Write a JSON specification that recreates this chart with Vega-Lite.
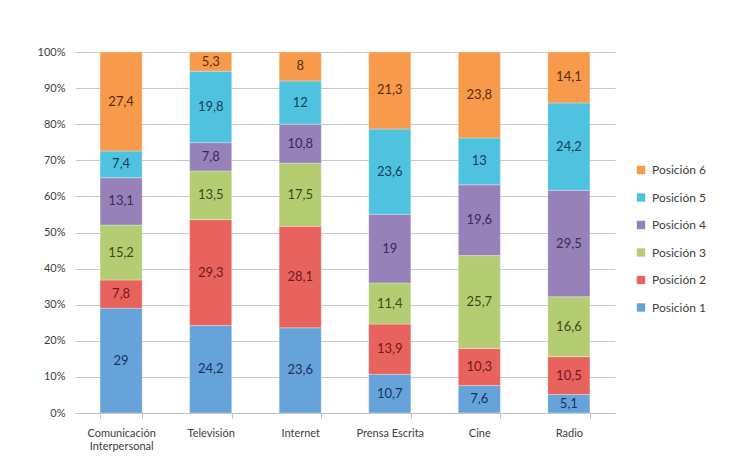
{
  "$schema": "https://vega.github.io/schema/vega-lite/v6.json",
  "width": 540,
  "height": 361,
  "autosize": "none",
  "padding": {"left": 75, "top": 52, "right": 134, "bottom": 60},
  "background": "white",
  "config": {
    "font": "Lato",
    "view": {"stroke": null},
    "axisY": {
      "title": null,
      "format": ".0%",
      "values": [0, 0.1, 0.2, 0.3, 0.4, 0.5, 0.6, 0.7, 0.8, 0.9, 1],
      "labelOverlap": false,
      "labelFont": "Lato",
      "labelFontSize": 11,
      "labelColor": "#404040",
      "labelPadding": 10,
      "domain": false,
      "ticks": false,
      "gridColor": "#c8c8c8",
      "gridWidth": 1
    },
    "locale": {"number": {"decimal": ",", "thousands": ".", "grouping": [3], "currency": ["", " €"]}}
  },
  "data": {
    "values": [
      {"cat": "Comunicación Interpersonal", "p": 1, "pos": "Posición 1", "v": 29},
      {"cat": "Comunicación Interpersonal", "p": 2, "pos": "Posición 2", "v": 7.8},
      {"cat": "Comunicación Interpersonal", "p": 3, "pos": "Posición 3", "v": 15.2},
      {"cat": "Comunicación Interpersonal", "p": 4, "pos": "Posición 4", "v": 13.1},
      {"cat": "Comunicación Interpersonal", "p": 5, "pos": "Posición 5", "v": 7.4},
      {"cat": "Comunicación Interpersonal", "p": 6, "pos": "Posición 6", "v": 27.4},
      {"cat": "Televisión", "p": 1, "pos": "Posición 1", "v": 24.2},
      {"cat": "Televisión", "p": 2, "pos": "Posición 2", "v": 29.3},
      {"cat": "Televisión", "p": 3, "pos": "Posición 3", "v": 13.5},
      {"cat": "Televisión", "p": 4, "pos": "Posición 4", "v": 7.8},
      {"cat": "Televisión", "p": 5, "pos": "Posición 5", "v": 19.8},
      {"cat": "Televisión", "p": 6, "pos": "Posición 6", "v": 5.3},
      {"cat": "Internet", "p": 1, "pos": "Posición 1", "v": 23.6},
      {"cat": "Internet", "p": 2, "pos": "Posición 2", "v": 28.1},
      {"cat": "Internet", "p": 3, "pos": "Posición 3", "v": 17.5},
      {"cat": "Internet", "p": 4, "pos": "Posición 4", "v": 10.8},
      {"cat": "Internet", "p": 5, "pos": "Posición 5", "v": 12},
      {"cat": "Internet", "p": 6, "pos": "Posición 6", "v": 8},
      {"cat": "Prensa Escrita", "p": 1, "pos": "Posición 1", "v": 10.7},
      {"cat": "Prensa Escrita", "p": 2, "pos": "Posición 2", "v": 13.9},
      {"cat": "Prensa Escrita", "p": 3, "pos": "Posición 3", "v": 11.4},
      {"cat": "Prensa Escrita", "p": 4, "pos": "Posición 4", "v": 19},
      {"cat": "Prensa Escrita", "p": 5, "pos": "Posición 5", "v": 23.6},
      {"cat": "Prensa Escrita", "p": 6, "pos": "Posición 6", "v": 21.3},
      {"cat": "Cine", "p": 1, "pos": "Posición 1", "v": 7.6},
      {"cat": "Cine", "p": 2, "pos": "Posición 2", "v": 10.3},
      {"cat": "Cine", "p": 3, "pos": "Posición 3", "v": 25.7},
      {"cat": "Cine", "p": 4, "pos": "Posición 4", "v": 19.6},
      {"cat": "Cine", "p": 5, "pos": "Posición 5", "v": 13},
      {"cat": "Cine", "p": 6, "pos": "Posición 6", "v": 23.8},
      {"cat": "Radio", "p": 1, "pos": "Posición 1", "v": 5.1},
      {"cat": "Radio", "p": 2, "pos": "Posición 2", "v": 10.5},
      {"cat": "Radio", "p": 3, "pos": "Posición 3", "v": 16.6},
      {"cat": "Radio", "p": 4, "pos": "Posición 4", "v": 29.5},
      {"cat": "Radio", "p": 5, "pos": "Posición 5", "v": 24.2},
      {"cat": "Radio", "p": 6, "pos": "Posición 6", "v": 14.1}
    ]
  },
  "transform": [
    {"stack": "v", "groupby": ["cat"], "sort": [{"field": "p", "order": "ascending"}], "as": ["v0", "v1"], "offset": "normalize"},
    {"calculate": "(datum.v0 + datum.v1) / 2", "as": "mid"}
  ],
  "encoding": {
    "x": {
      "field": "cat",
      "type": "nominal",
      "sort": ["Comunicación Interpersonal", "Televisión", "Internet", "Prensa Escrita", "Cine", "Radio"],
      "scale": {"paddingInner": 0.53, "paddingOuter": 0.28},
      "axis": {
        "title": null,
        "labelAngle": 0,
        "labelFont": "Lato",
        "labelFontSize": 11,
        "labelColor": "#404040",
        "labelPadding": 9,
        "domainColor": "#bfbfbf",
        "tickColor": "#bfbfbf",
        "ticks": true,
        "tickBand": "extent",
        "labelExpr": "datum.value == 'Comunicación Interpersonal' ? ['Comunicación', 'Interpersonal'] : datum.label"
      }
    }
  },
  "layer": [
    {
      "mark": {"type": "bar", "stroke": "white", "strokeWidth": 0.3},
      "encoding": {
        "y": {"field": "v0", "type": "quantitative", "scale": {"domain": [0, 1]}, "title": null},
        "y2": {"field": "v1"},
        "color": {
          "field": "pos",
          "type": "nominal",
          "scale": {
            "domain": ["Posición 6", "Posición 5", "Posición 4", "Posición 3", "Posición 2", "Posición 1"],
            "range": ["#F79A4C", "#4FC2E0", "#9682B9", "#B5CD72", "#E8625E", "#65A3DA"]
          },
          "legend": {
            "title": null,
            "orient": "none",
            "legendX": 560,
            "legendY": 112,
            "symbolType": "square",
            "symbolSize": 70,
            "symbolStrokeWidth": 0,
            "labelFont": "Lato",
            "labelFontSize": 12,
            "labelColor": "#404040",
            "rowPadding": 15.5,
            "labelOffset": 5
          }
        }
      }
    },
    {
      "mark": {"type": "text", "font": "Lato", "fontSize": 13, "baseline": "middle", "align": "center"},
      "encoding": {
        "y": {"field": "mid", "type": "quantitative", "scale": {"domain": [0, 1]}, "title": null},
        "text": {"field": "v", "type": "quantitative", "format": "~g"},
        "color": {
          "field": "pos",
          "type": "nominal",
          "scale": {
            "domain": ["Posición 6", "Posición 5", "Posición 4", "Posición 3", "Posición 2", "Posición 1"],
            "range": ["#5A2E0C", "#173E55", "#3A2C52", "#3B4A18", "#6E1A1A", "#17345E"]
          },
          "legend": null
        }
      }
    }
  ],
  "resolve": {"scale": {"color": "independent"}}
}
